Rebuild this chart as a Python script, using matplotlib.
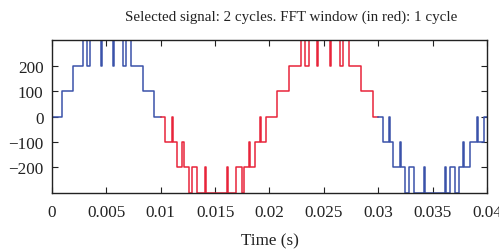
import numpy as np
import matplotlib
matplotlib.use("Agg")
import matplotlib.pyplot as plt

# step signal: switching instants (s) and the level held after each one
t_switch = [0.0, 0.0009, 0.0019, 0.0029, 0.0032, 0.0035, 0.00455, 0.00465,
            0.0056, 0.0057, 0.0065, 0.0068, 0.0073, 0.0084, 0.0094,
            0.0104, 0.0110, 0.0111, 0.0115, 0.0120, 0.0121, 0.0126, 0.0129,
            0.0133, 0.0141, 0.0142, 0.0161, 0.0162, 0.0169, 0.0175, 0.0177,
            0.0181, 0.01825, 0.0187, 0.0191, 0.0192, 0.0197,
            0.0207, 0.0218, 0.0229, 0.0233, 0.0236, 0.0244, 0.0245,
            0.0256, 0.0257, 0.0265, 0.0268, 0.0273, 0.0284, 0.0295,
            0.0304, 0.0310, 0.0311, 0.0314, 0.0320, 0.0321, 0.0325, 0.0328,
            0.0333, 0.0342, 0.0343, 0.0361, 0.0362, 0.0366, 0.0371, 0.0374,
            0.0378, 0.0379, 0.0384, 0.0391, 0.0392, 0.0397]
v_switch = [0, 100, 200, 300, 200, 300, 200, 300,
            200, 300, 200, 300, 200, 100, 0,
            -100, 0, -100, -200, -100, -200, -300, -200,
            -300, -200, -300, -200, -300, -200, -300, -200,
            -100, -200, -100, 0, -100, 0,
            100, 200, 300, 200, 300, 200, 300,
            200, 300, 200, 300, 200, 100, 0,
            -100, 0, -100, -200, -100, -200, -300, -200,
            -300, -200, -300, -200, -300, -200, -300, -200,
            -100, -200, -100, 0, -100, 0]

fft_start = 0.01
fft_end = 0.03
t_end = 0.04

t_switch = np.array(t_switch)
v_switch = np.array(v_switch)


def segment(a, b):
    # pieces of the step signal between a and b, for steps-post drawing
    inside = (t_switch > a) & (t_switch < b)
    v0 = v_switch[t_switch <= a][-1]
    ts = np.concatenate([[a], t_switch[inside], [b]])
    vs = np.concatenate([[v0], v_switch[inside], [v_switch[t_switch < b][-1]]])
    return ts, vs


plt.rcParams['font.family'] = ['Liberation Serif', 'DejaVu Serif']

fig = plt.figure(figsize=(4.99, 2.53), dpi=100)
ax = fig.add_axes([0.104, 0.233, 0.872, 0.605])

blue = '#3a52aa'
red = '#e8243a'
for a, b, c in [(0, fft_start, blue), (fft_start, fft_end, red), (fft_end, t_end, blue)]:
    ts, vs = segment(a, b)
    ax.plot(ts, vs, drawstyle='steps-post', color=c, lw=1.1)

ax.set_xlim(0, 0.04)
ax.set_ylim(-302, 302)
ax.set_xticks([0, 0.005, 0.01, 0.015, 0.02, 0.025, 0.03, 0.035, 0.04])
ax.set_xticklabels(['0', '0.005', '0.01', '0.015', '0.02', '0.025', '0.03', '0.035', '0.04'])
ax.set_yticks([-200, -100, 0, 100, 200])
ax.set_yticklabels(['\u2212200', '\u2212100', '0', '100', '200'])
ax.tick_params(direction='in', top=True, right=True, length=4, width=0.8,
               colors='#222222', labelsize=12.3)
ax.tick_params(axis='x', pad=8)
ax.tick_params(axis='y', pad=6)
for s in ax.spines.values():
    s.set_linewidth(1.0)
    s.set_color('#222222')

fig.text(291.5 / 499, 1 - 17 / 253, 'Selected signal: 2 cycles. FFT window (in red): 1 cycle',
         fontsize=10.8, color='#222222', ha='center', va='center')
ax.set_xlabel('Time (s)', fontsize=12.3, color='#222222', labelpad=9)

fig.savefig('out.png', dpi=100)
